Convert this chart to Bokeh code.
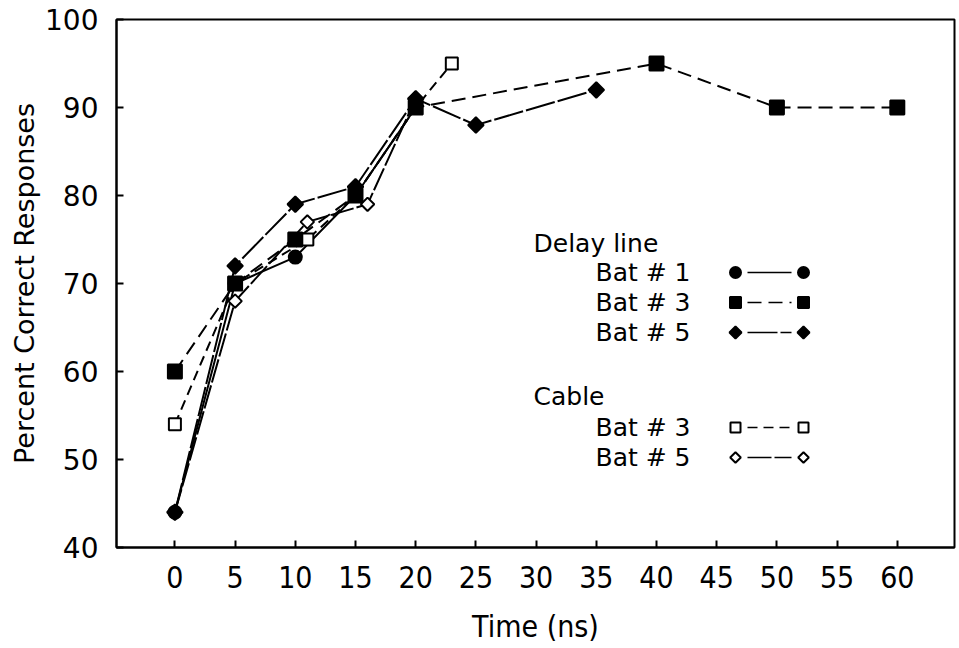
import math

from bokeh.plotting import figure
from bokeh.models import Range1d, FixedTicker
from bokeh.core.properties import value
from bokeh.embed import file_html
from bokeh.resources import INLINE

# Percent correct responses versus delay time
delay_bat1_t = [0, 5, 10, 15, 20]
delay_bat1_pct = [44, 70, 73, 80, 90]

delay_bat3_t = [0, 5, 10, 15, 20, 40, 50, 60]
delay_bat3_pct = [60, 70, 75, 80, 90, 95, 90, 90]

delay_bat5_t = [0, 5, 10, 15, 20, 25, 35]
delay_bat5_pct = [44, 72, 79, 81, 91, 88, 92]

cable_bat3_t = [0, 5, 11, 15, 20, 23]
cable_bat3_pct = [54, 70, 75, 80, 90, 95]

cable_bat5_t = [0, 5, 11, 16, 20]
cable_bat5_pct = [44, 68, 77, 79, 91]

x_ticks = [0, 5, 10, 15, 20, 25, 30, 35, 40, 45, 50, 55, 60]
y_ticks = [40, 50, 60, 70, 80, 90, 100]

W, H = 959, 648
FL, FR, FT, FB = 116, 954, 19, 547          # frame edges in pixels
X0, X1 = -4.85, 64.75
Y0, Y1 = 40, 100

FONT = "DejaVu Sans"
NARROW = "'Liberation Sans Narrow', 'DejaVu Sans Condensed', 'Liberation Sans', sans-serif"

p = figure(width=W, height=H, output_backend="svg", toolbar_location=None,
           x_range=Range1d(X0, X1), y_range=Range1d(Y0, Y1),
           min_border_left=FL, min_border_right=W - FR,
           min_border_top=FT, min_border_bottom=H - FB)
p.background_fill_color = "white"
p.border_fill_color = "white"
p.outline_line_color = "black"
p.outline_line_width = 2
p.xgrid.visible = False
p.ygrid.visible = False

p.xaxis.ticker = FixedTicker(ticks=x_ticks)
p.yaxis.ticker = FixedTicker(ticks=y_ticks)
p.xaxis.minor_tick_line_color = None
p.yaxis.minor_tick_line_color = None
for ax in (p.xaxis, p.yaxis):
    ax.major_tick_in = 7
    ax.major_tick_out = 0
    ax.major_tick_line_width = 2
    ax.axis_line_width = 2
    ax.axis_label_text_font_style = "normal"
    ax.axis_label_text_color = "black"
    ax.major_label_text_color = "black"

p.xaxis.axis_label = "Time (ns)"
p.xaxis.axis_label_text_font = NARROW
p.xaxis.axis_label_text_font_size = "30px"
p.xaxis.axis_label_standoff = 18
p.xaxis.major_label_text_font = NARROW
p.xaxis.major_label_text_font_size = "30px"
p.xaxis.major_label_standoff = 18

p.yaxis.axis_label = "Percent Correct Responses"
p.yaxis.axis_label_text_font = FONT
p.yaxis.axis_label_text_font_size = "27px"
p.yaxis.axis_label_standoff = 2
p.yaxis.major_label_text_font = FONT
p.yaxis.major_label_text_font_size = "28px"
p.yaxis.major_label_standoff = 18


def px_x(px):
    return X0 + (px - FL) / (FR - FL) * (X1 - X0)


def px_y(py):
    return Y1 - (py - FT) / (FB - FT) * (Y1 - Y0)


ROT = math.pi / 4   # diamonds are squares turned on their corner

d1 = dict(t=delay_bat1_t, v=delay_bat1_pct, marker="circle", angle=0, fill="black", dash="solid", size=13, key=11)
d3 = dict(t=delay_bat3_t, v=delay_bat3_pct, marker="square", angle=0, fill="black", dash="14 7", size=14, key=11)
d5 = dict(t=delay_bat5_t, v=delay_bat5_pct, marker="square", angle=ROT, fill="black", dash="30 3", size=11, key=8.5)
c3 = dict(t=cable_bat3_t, v=cable_bat3_pct, marker="square", angle=0, fill="white", dash="10 6", size=12, key=10)
c5 = dict(t=cable_bat5_t, v=cable_bat5_pct, marker="square", angle=ROT, fill="white", dash="24 3", size=9.5, key=7.5)

for s in (d1, d3, d5, c3, c5):
    p.line(s["t"], s["v"], line_color="black", line_width=2, line_dash=s["dash"])
# open symbols first so the filled ones sit on top where they coincide
for s in (c3, c5, d1, d3, d5):
    p.scatter(s["t"], s["v"], marker=s["marker"], size=s["size"], angle=s["angle"],
              fill_color=s["fill"], line_color="black", line_width=2)

# Key, drawn inside the frame
head_x = 533
entry_x = 595
sym_l, sym_r = 735, 803
rows = [
    ("Delay line", 243, None),
    ("Bat # 1", 272, d1),
    ("Bat # 3", 302, d3),
    ("Bat # 5", 332, d5),
    ("Cable", 396, None),
    ("Bat # 3", 427, c3),
    ("Bat # 5", 457, c5),
]
for label, py, s in rows:
    tx = head_x if s is None else entry_x
    p.text(x=[px_x(tx)], y=[px_y(py)], text=[label], text_font=value(FONT),
           text_font_size="25px", text_baseline="middle", text_align="left",
           text_color="black")
    if s is not None:
        p.line([px_x(sym_l + 12), px_x(sym_r - 12)], [px_y(py), px_y(py)],
               line_color="black", line_width=1.5, line_dash=s["dash"])
        p.scatter([px_x(sym_l), px_x(sym_r)], [px_y(py), px_y(py)],
                  marker=s["marker"], size=s["key"], angle=s["angle"],
                  fill_color=s["fill"], line_color="black", line_width=2)

open("out.html", "w").write(file_html(p, INLINE))
